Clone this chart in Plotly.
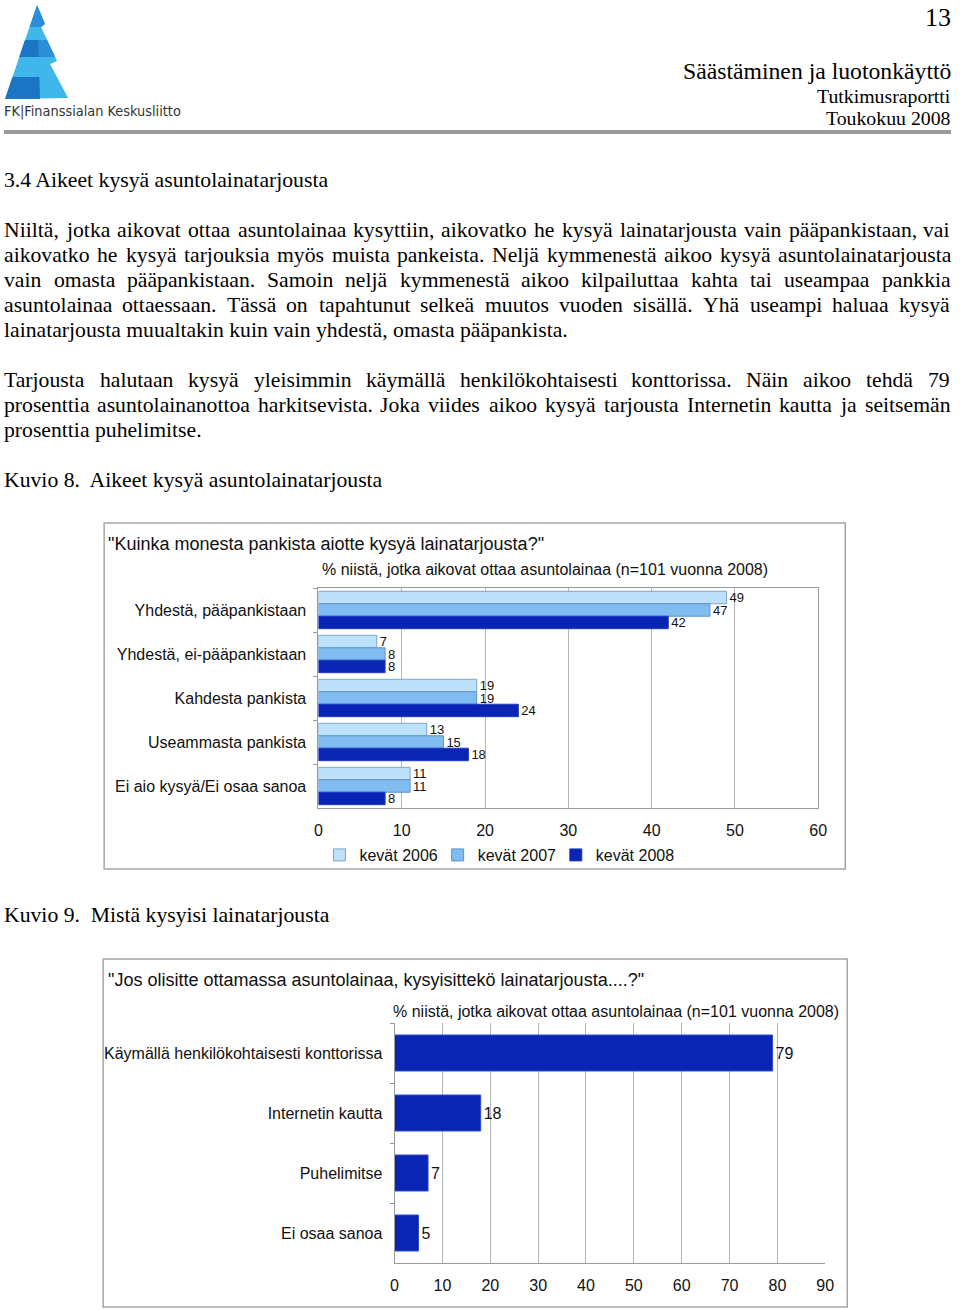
import plotly.graph_objects as go

W, H = 960, 1310
# The page renders slightly narrower than the figure; positions below are given in
# target pixels and converted to paper fractions with that correction.
SCALE_X, OFF_X = 0.985, 4.0
def X(px):
    v = (px - OFF_X) / SCALE_X / W
    return min(max(v, 0.0), 1.0)
def Y(py): return 1 - py / H

# ---------------- data ----------------
cats1 = ["Yhdestä, pääpankistaan", "Yhdestä, ei-pääpankistaan", "Kahdesta pankista",
         "Useammasta pankista", "Ei aio kysyä/Ei osaa sanoa"]
series_names = ["kevät 2006", "kevät 2007", "kevät 2008"]
v2006 = [49, 7, 19, 13, 11]
v2007 = [47, 8, 19, 15, 11]
v2008 = [42, 8, 24, 18, 8]

cats2 = ["Käymällä henkilökohtaisesti konttorissa", "Internetin kautta", "Puhelimitse", "Ei osaa sanoa"]
vals2 = [79, 18, 7, 5]

title1 = '"Kuinka monesta pankista aiotte kysyä lainatarjousta?"'
title2 = '"Jos olisitte ottamassa asuntolainaa, kysyisittekö lainatarjousta....?"'
subtitle = "% niistä, jotka aikovat ottaa asuntolainaa (n=101 vuonna 2008)"

para_lines = [
    ("Niiltä, jotka aikovat ottaa asuntolainaa kysyttiin, aikovatko he kysyä lainatarjousta vain pääpankistaan, vai", True),
    ("aikovatko he kysyä tarjouksia myös muista pankeista. Neljä kymmenestä aikoo kysyä asuntolainatarjousta", True),
    ("vain omasta pääpankistaan. Samoin neljä kymmenestä aikoo kilpailuttaa kahta tai useampaa pankkia", True),
    ("asuntolainaa ottaessaan. Tässä on tapahtunut selkeä muutos vuoden sisällä. Yhä useampi haluaa kysyä", True),
    ("lainatarjousta muualtakin kuin vain yhdestä, omasta pääpankista.", False),
    ("Tarjousta halutaan kysyä yleisimmin käymällä henkilökohtaisesti konttorissa. Näin aikoo tehdä 79", True),
    ("prosenttia asuntolainanottoa harkitsevista. Joka viides aikoo kysyä tarjousta Internetin kautta ja seitsemän", True),
    ("prosenttia puhelimitse.", False),
]
para_y = [230, 255, 280, 305, 330, 380, 405, 430]

# ---------------- colours ----------------
c2006, c2007, c2008 = "#BDE1FA", "#80BCF0", "#0A24B4"
e2006, e2007, e2008 = "#7FA6C8", "#5E93C8", "#1F3CC0"
grid = "#B5B5B5"
axis_line = "#9A9A9A"

SANS = "Liberation Sans, Arial, sans-serif"
SERIF = "Liberation Serif, Times New Roman, serif"

fig = go.Figure()

# ---------------- chart 1 ----------------
legend_names = ["legend", "legend2", "legend3"]
for name, vals, col, edge, lg in [(series_names[0], v2006, c2006, e2006, legend_names[0]),
                                  (series_names[1], v2007, c2007, e2007, legend_names[1]),
                                  (series_names[2], v2008, c2008, e2008, legend_names[2])]:
    fig.add_trace(go.Bar(
        y=cats1, x=vals, orientation="h", name=name,
        marker=dict(color=col, line=dict(color=edge, width=1)),
        text=[str(v) for v in vals], textposition="outside",
        textfont=dict(family=SANS, size=13, color="#111"),
        constraintext="none", cliponaxis=False,
        xaxis="x", yaxis="y", showlegend=True, legend=lg,
    ))

# ---------------- chart 2 ----------------
fig.add_trace(go.Bar(
    y=cats2, x=vals2, orientation="h", name="2008",
    marker=dict(color=c2008, line=dict(color="#2E4FD0", width=1)),
    width=0.6,
    text=[str(v) for v in vals2], textposition="outside",
    textfont=dict(family=SANS, size=16, color="#111"),
    constraintext="none", cliponaxis=False,
    xaxis="x2", yaxis="y2", showlegend=False,
))

axis_font = dict(family=SANS, size=16, color="#111")

def legend_at(px):
    return dict(orientation="h", x=X(px), xanchor="left", y=Y(855), yanchor="middle",
                font=dict(family=SANS, size=16, color="#111"), bgcolor="rgba(0,0,0,0)",
                itemwidth=30, borderwidth=0)

fig.update_layout(
    width=W, height=H, autosize=False,
    margin=dict(l=0, r=0, t=0, b=0),
    paper_bgcolor="white", plot_bgcolor="white",
    barmode="group", bargap=0.15, bargroupgap=0.0,
    xaxis=dict(domain=[X(318), X(817)], range=[0, 60], dtick=10, anchor="y",
               showgrid=True, gridcolor=grid, gridwidth=1, zeroline=False,
               showline=True, linecolor=axis_line, mirror=True,
               tickfont=axis_font, ticks="", ticklabelstandoff=8),
    yaxis=dict(domain=[Y(808), Y(588)], anchor="x", type="category",
               categoryorder="array", categoryarray=cats1, autorange="reversed",
               showline=True, linecolor=axis_line, mirror=True,
               ticks="outside", tickson="boundaries", ticklen=4, tickcolor=axis_line,
               tickfont=axis_font, ticklabelstandoff=8, showgrid=False),
    xaxis2=dict(domain=[X(394), X(824)], range=[0, 90], dtick=10, anchor="y2",
                showgrid=True, gridcolor=grid, gridwidth=1, zeroline=False,
                showline=True, linecolor=axis_line, mirror=False,
                tickfont=axis_font, ticks="", ticklabelstandoff=8),
    yaxis2=dict(domain=[Y(1263), Y(1023)], anchor="x2", type="category",
                categoryorder="array", categoryarray=cats2, autorange="reversed",
                showline=True, linecolor=axis_line,
                ticks="outside", tickson="boundaries", ticklen=4, tickcolor=axis_line,
                tickfont=axis_font, ticklabelstandoff=8, showgrid=False),
    legend=legend_at(319),
    legend2=legend_at(437),
    legend3=legend_at(555),
)

shapes = []
annotations = []

def txt(s, x, y, size, family=SERIF, xanchor="left", color="#000"):
    annotations.append(dict(text=s, x=X(x), y=Y(y), xref="paper", yref="paper",
                            xanchor=xanchor, yanchor="middle", showarrow=False,
                            borderpad=0, borderwidth=0,
                            font=dict(family=family, size=size, color=color)))

# chart boxes
shapes.append(dict(type="rect", xref="paper", yref="paper", x0=X(104), x1=X(844), y0=Y(869), y1=Y(523),
                   line=dict(color="#A5A5A5", width=1.5), layer="below"))
shapes.append(dict(type="rect", xref="paper", yref="paper", x0=X(103), x1=X(846), y0=Y(1307), y1=Y(959),
                   line=dict(color="#A5A5A5", width=1.5), layer="below"))

# chart titles
txt(title1, 108, 544, 18, family=SANS, color="#111")
txt(subtitle, 767, 570, 16, family=SANS, xanchor="right", color="#111")
txt(title2, 108, 980, 18, family=SANS, color="#111")
txt(subtitle, 838, 1011, 16, family=SANS, xanchor="right", color="#111")

# ---------------- header ----------------
shapes.append(dict(type="line", xref="paper", yref="paper", x0=0, x1=1, y0=Y(132), y1=Y(132),
                   line=dict(color="#9A9A9A", width=4)))
txt("13", 955, 17, 26, xanchor="right")
txt("Säästäminen ja luotonkäyttö", 955, 71, 23.7, xanchor="right")
txt("Tutkimusraportti", 955, 96, 19.8, xanchor="right")
txt("Toukokuu 2008", 955, 118, 19.8, xanchor="right")

# logo (decorative polygons, pixel coordinates)
def poly(points, color):
    d = "M" + " L".join(f"{X(px)},{Y(py)}" for px, py in points) + " Z"
    shapes.append(dict(type="path", xref="paper", yref="paper", path=d,
                       fillcolor=color, line=dict(width=0)))

def xl(y):  # left edge of pyramid
    return 37 - (y - 5) * 32 / 94

def xc(y):  # face divider
    return 37 + (y - 5) * 3 / 94

mid = "#2A8FD8"; light = "#3FB7EA"; dark = "#1C74C4"
poly([(37, 5), (45, 24), (41, 27), (57, 61), (50, 64), (68, 98), (5, 99)], light)
poly([(37, 5), (45, 24), (41, 27), (xl(27), 27)], mid)
poly([(xl(40), 40), (47, 40), (55, 57), (xl(57), 57)], mid)
poly([(xl(40), 40), (xc(40), 40), (xc(57), 57), (xl(57), 57)], dark)
poly([(xl(77), 77), (xc(77), 77), (xc(99), 99), (5, 99)], dark)
txt("FK|Finanssialan Keskusliitto", 3, 112, 14.4,
    family="DejaVu Sans Condensed, Liberation Sans Narrow, sans-serif", color="#333")

# ---------------- body text ----------------
TW = {c: w for c, w in zip("abcdefghijklmnopqrstuvwxyz",
                           [444, 500, 444, 500, 444, 333, 500, 500, 278, 278, 500, 278, 778, 500, 500, 500,
                            500, 333, 389, 278, 500, 500, 722, 500, 500, 444])}
TW.update({c: w for c, w in zip("ABCDEFGHIJKLMNOPQRSTUVWXYZ",
                                [722, 667, 667, 722, 611, 556, 722, 722, 333, 389, 722, 611, 889, 722, 722, 556,
                                 722, 667, 556, 611, 722, 722, 944, 722, 722, 611])})
TW.update({d: 500 for d in "0123456789"})
TW.update({" ": 250, ".": 250, ",": 250, "-": 333, "ä": 444, "ö": 500, "Ä": 722, "Ö": 722})

BODY = 21.7
def wwidth(s):  # width on the rendered page, target pixels
    return sum(TW.get(c, 500) for c in s) / 1000 * BODY * SCALE_X

x_left, x_right = 4, 948
for (line, just), ly in zip(para_lines, para_y):
    if not just:
        txt(line, x_left, ly, BODY)
        continue
    words = line.split(" ")
    total = sum(wwidth(w) for w in words)
    gap = (x_right - x_left - total) / (len(words) - 1)
    pos = x_left
    for w in words:
        txt(w, pos, ly, BODY)
        pos += wwidth(w) + gap

txt("3.4 Aikeet kysyä asuntolainatarjousta", 4, 180, BODY)
txt("Kuvio 8.  Aikeet kysyä asuntolainatarjousta", 4, 480, BODY)
txt("Kuvio 9.  Mistä kysyisi lainatarjousta", 4, 915, BODY)

fig.update_layout(shapes=shapes, annotations=annotations)
fig.write_html("out.html", config={"responsive": False})
